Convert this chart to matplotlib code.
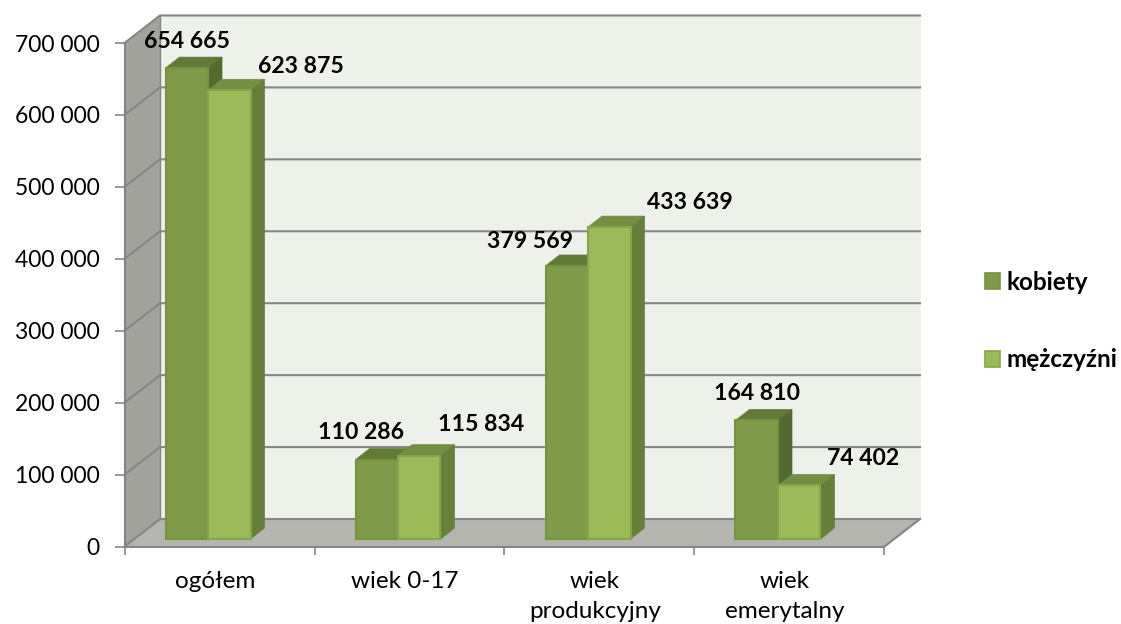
#!/usr/bin/env python3
"""Excel style 3D column chart: population by age group and sex."""

import matplotlib.pyplot as plt
from matplotlib.patches import Patch, Polygon
from matplotlib.ticker import FuncFormatter

categories = ["ogółem", "wiek 0-17", "wiek\nprodukcyjny", "wiek\nemerytalny"]
kobiety = [654665, 110286, 379569, 164810]
mezczyzni = [623875, 115834, 433639, 74402]
y_ticks = [0, 100000, 200000, 300000, 400000, 500000, 600000, 700000]

# label offset from the top of each bar, in pixels (hand placed in the original)
OFF_K = [(0, 27), (-16, 27), (-37, 24), (0, 27)]
OFF_M = [(72, 24), (62, 31), (81, 25), (64, 27)]

W, H = 1121, 624
LEFT, RIGHT, TOP, BOTTOM = 124.5, 884.5, 43.0, 546.5
YMAX = 700000
PX_X = (RIGHT - LEFT) / len(categories)  # pixels per category
PX_Y = (BOTTOM - TOP) / YMAX  # pixels per unit

# 3D offsets, in data units
WALL_DX, WALL_DY = 35.5 / PX_X, 27.5 / PX_Y
BAR_DX, BAR_DY = 14 / PX_X, 11 / PX_Y
BASE = 7.5 / PX_Y
BAR_W = 42.5 / PX_X
BAR_START = 41 / PX_X

GRID = "#858585"
WALL, SIDE, FLOOR = "#EEF1EA", "#A1A39C", "#B3B5AE"
C_K = {"front": "#7F9A48", "edge": "#769440", "top": "#617A38", "side": "#546A30"}
C_M = {"front": "#9BBB59", "edge": "#84A54B", "top": "#728F42", "side": "#64803A"}

plt.rcParams["font.family"] = ["Lato", "DejaVu Sans"]
plt.rcParams["font.size"] = 16.5

fig = plt.figure(figsize=(W / 100, H / 100), dpi=100)
ax = fig.add_axes([LEFT / W, 1 - BOTTOM / H, (RIGHT - LEFT) / W, (BOTTOM - TOP) / H])
ax.set_xlim(0, len(categories))
ax.set_ylim(0, YMAX)
ax.patch.set_visible(False)


def poly(pts, color, z, edge=None):
    ax.add_patch(Polygon(pts, closed=True, facecolor=color, edgecolor=edge or color,
                         linewidth=0.5, zorder=z, clip_on=False))


n = len(categories)
# walls and floor
poly([(WALL_DX, WALL_DY), (n + WALL_DX, WALL_DY), (n + WALL_DX, YMAX + WALL_DY), (WALL_DX, YMAX + WALL_DY)], WALL, 0.5)
poly([(0, 0), (WALL_DX, WALL_DY), (WALL_DX, YMAX + WALL_DY), (0, YMAX)], SIDE, 0.6)
poly([(0, 0), (n, 0), (n + WALL_DX, WALL_DY), (WALL_DX, WALL_DY)], FLOOR, 0.7)

# gridlines run along the back wall and down the side wall
for v in y_ticks:
    ax.plot([0, WALL_DX, n + WALL_DX], [v, v + WALL_DY, v + WALL_DY], color=GRID, lw=1.5,
            zorder=1, clip_on=False, solid_joinstyle="miter")
ax.plot([WALL_DX, WALL_DX], [WALL_DY, YMAX + WALL_DY], color=GRID, lw=1.0, zorder=1, clip_on=False)
ax.plot([n, n + WALL_DX], [0, WALL_DY], color=GRID, lw=1.5, zorder=1, clip_on=False)


def draw_bar(x, val, col, z):
    top = BASE + val
    ax.bar(x, val, BAR_W, bottom=BASE, align="edge", color=col["front"],
           edgecolor=col["edge"], linewidth=1.5, zorder=z + 0.2)
    poly([(x, top), (x + BAR_W, top), (x + BAR_W + BAR_DX, top + BAR_DY), (x + BAR_DX, top + BAR_DY)], col["top"], z)
    poly([(x + BAR_W, BASE), (x + BAR_W + BAR_DX, BASE + BAR_DY), (x + BAR_W + BAR_DX, top + BAR_DY), (x + BAR_W, top)], col["side"], z)


def fmt(v):
    return f"{v:,}".replace(",", " ")


for i in range(n):
    x0 = i + BAR_START
    x1 = x0 + BAR_W
    draw_bar(x0, kobiety[i], C_K, 3)
    draw_bar(x1, mezczyzni[i], C_M, 4)
    for x, val, off in [(x0, kobiety[i], OFF_K[i]), (x1, mezczyzni[i], OFF_M[i])]:
        ax.annotate(fmt(val), (x + BAR_W / 2, BASE + val),
                    xytext=(off[0] * 0.72, off[1] * 0.72), textcoords="offset points",
                    ha="center", va="center", fontweight="bold", fontsize=16.6,
                    color="black", zorder=6)

# axes
ax.spines["top"].set_visible(False)
ax.spines["right"].set_visible(False)
for side in ["left", "bottom"]:
    ax.spines[side].set_color(GRID)
    ax.spines[side].set_linewidth(1.5)
ax.set_yticks(y_ticks)
ax.yaxis.set_major_formatter(FuncFormatter(lambda v, _: fmt(int(v))))
ax.set_xticks(range(n + 1))
ax.set_xticklabels([])
ax.set_xticks([i + 0.475 for i in range(n)], minor=True)
ax.set_xticklabels(categories, minor=True, linespacing=1.5, fontsize=17.5)
ax.tick_params(axis="y", length=7, width=1.2, color=GRID, pad=11)
ax.tick_params(axis="x", which="major", length=6, width=1.2, color=GRID)
ax.tick_params(axis="x", which="minor", length=0, pad=18)

handles = [Patch(facecolor=C_K["front"], edgecolor=C_K["edge"], linewidth=1.2, label="kobiety"),
           Patch(facecolor=C_M["front"], edgecolor=C_M["edge"], linewidth=1.2, label="mężczyźni")]
fig.legend(handles=handles, loc="center left", bbox_to_anchor=(985 / W, 1 - 321 / H), frameon=False,
           handlelength=0.62, handleheight=0.62, handletextpad=0.25, labelspacing=2.25,
           prop={"weight": "bold", "size": 17.5}, borderpad=0, borderaxespad=0)

fig.savefig("out.png", dpi=100, facecolor="white")
plt.close()
